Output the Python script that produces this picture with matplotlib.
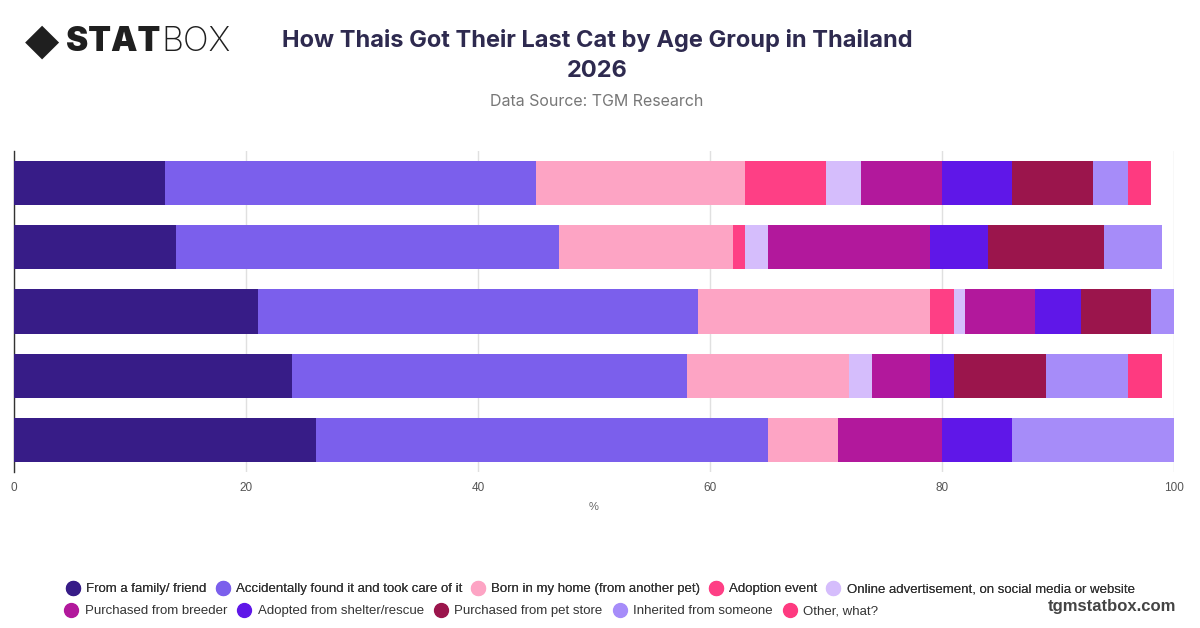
import matplotlib
matplotlib.use("Agg")
import matplotlib.pyplot as plt
import numpy as np
from matplotlib.lines import Line2D

# one row per age group (top to bottom), axis labels are not shown in the source
age_groups = ["Group 1", "Group 2", "Group 3", "Group 4", "Group 5"]

sources = [
    "From a family/ friend",
    "Accidentally found it and took care of it",
    "Born in my home (from another pet)",
    "Adoption event",
    "Online advertisement, on social media or website",
    "Purchased from breeder",
    "Adopted from shelter/rescue",
    "Purchased from pet store",
    "Inherited from someone",
    "Other, what?",
]

family = [13, 14, 21, 24, 26]
accidentally = [32, 33, 38, 34, 39]
born_home = [18, 15, 20, 14, 6]
adoption_event = [7, 1, 2, 0, 0]
online_ad = [3, 2, 1, 2, 0]
breeder = [7, 14, 6, 5, 9]
shelter = [6, 5, 4, 2, 6]
pet_store = [7, 10, 6, 8, 0]
inherited = [3, 5, 2, 7, 14]
other = [2, 0, 0, 3, 0]

series = [family, accidentally, born_home, adoption_event, online_ad,
          breeder, shelter, pet_store, inherited, other]

colors = ["#371c87", "#7b5fec", "#fda4c4", "#fe3f85", "#d5bdfc",
          "#b2189c", "#5f17e8", "#9b154c", "#a68cf9", "#fe3a80"]

plt.rcParams['font.family'] = ['Liberation Sans', 'DejaVu Sans']

fig = plt.figure(figsize=(12, 6.28), dpi=100)
ax = fig.add_axes([0.0117, 0.2484, 0.9666, 0.5112])

y = np.arange(len(age_groups))
left = np.zeros(len(age_groups))
for name, vals, c in zip(sources, series, colors):
    vals = np.array(vals, dtype=float)
    ax.barh(y, vals, left=left, height=0.69, color=c, label=name, zorder=3)
    left += vals

ax.set_xlim(0, 100)
ax.set_ylim(len(age_groups) - 0.5, -0.5)
ax.set_yticks([])
ax.set_xticks([0, 20, 40, 60, 80, 100])
ax.tick_params(axis='x', length=0, labelsize=8.5, colors="#555555", pad=7)
ax.grid(axis='x', color="#e0e0e0", linewidth=1, zorder=0)
for s in ["top", "right", "bottom"]:
    ax.spines[s].set_visible(False)
ax.spines["left"].set_color("#333333")
ax.spines["left"].set_linewidth(1)
ax.set_xlabel("%", fontsize=8, color="#666666", labelpad=6)

# title
fig.text(0.4975, 0.912, "How Thais Got Their Last Cat by Age Group in Thailand\n2026",
         ha='center', va='center', fontsize=17, fontweight='bold', color="#2e2a4f",
         family=['Inter', 'DejaVu Sans'], linespacing=1.5)
fig.text(0.4975, 0.838, "Data Source: TGM Research", ha='center', va='center',
         fontsize=11.5, color="#777777", family=['Inter', 'DejaVu Sans'])

# logo
fig.text(0.021, 0.933, "\u25C6", ha='left', va='center', fontsize=32, color="#1f1f1f")
stat = fig.text(0.055, 0.933, "STAT", ha='left', va='center', fontsize=24, fontweight='black',
                color="#1f1f1f", family=['Inter', 'DejaVu Sans'])
renderer = fig.canvas.get_renderer()
bb = stat.get_window_extent(renderer=renderer)
fig.text(bb.x1 / fig.bbox.width + 0.001, 0.933, "BOX", ha='left', va='center', fontsize=24.5,
         fontweight='light', color="#1f1f1f", family=['Inter', 'DejaVu Sans'])

# legend
handles = [Line2D([0], [0], marker='o', linestyle='', markersize=10,
                  markerfacecolor=c, markeredgecolor=c) for c in colors]
row1 = list(range(5))
row2 = list(range(5, 10))
leg1 = fig.legend([handles[i] for i in row1], [sources[i] for i in row1],
                  loc='center', bbox_to_anchor=(0.5, 0.062), ncol=5, frameon=False,
                  fontsize=9.5, handletextpad=0.4, columnspacing=0.6, handlelength=1.2,
                  labelcolor="#333333")
fig.add_artist(leg1)
leg2 = fig.legend([handles[i] for i in row2], [sources[i] for i in row2],
                  loc='center left', bbox_to_anchor=(0.043, 0.027), ncol=5, frameon=False,
                  fontsize=9.5, handletextpad=0.4, columnspacing=0.72, handlelength=1.2,
                  labelcolor="#333333")

fig.text(0.98, 0.035, "tgmstatbox.com", ha='right', va='center', fontsize=12,
         fontweight='bold', color="#444444")

fig.savefig("out.png", dpi=100)
